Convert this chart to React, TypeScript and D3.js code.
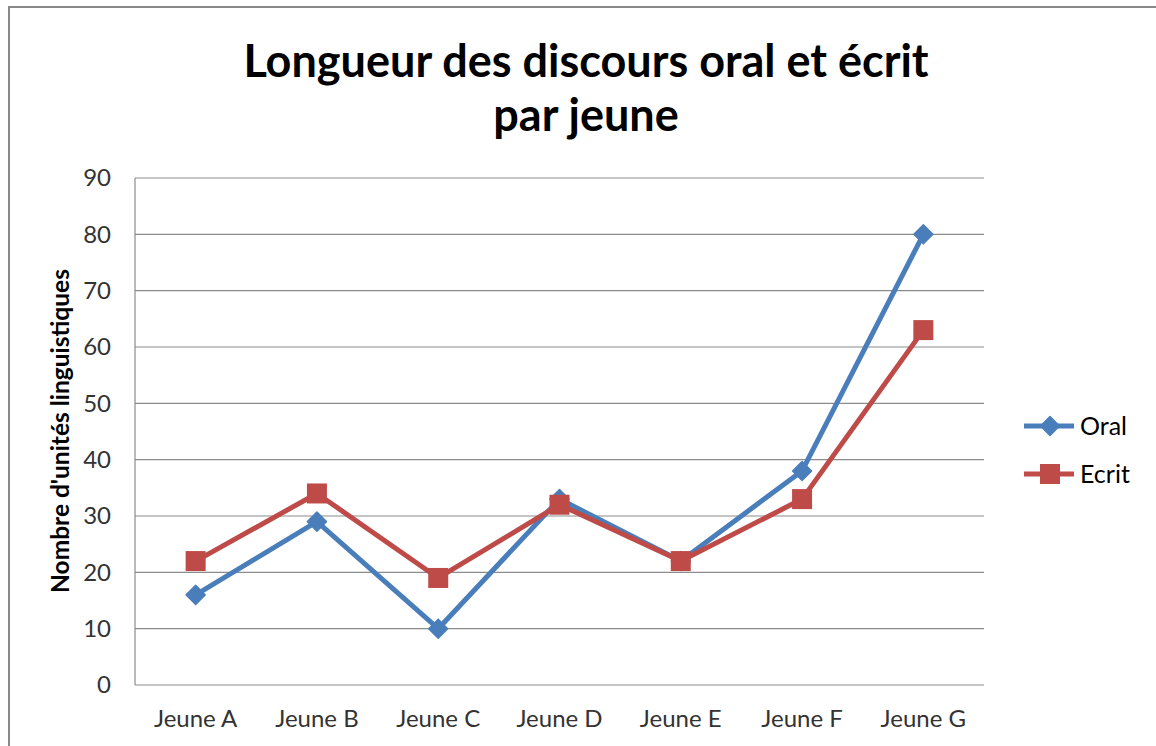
import React from "react";
import * as d3 from "d3";

const categories = ["Jeune A", "Jeune B", "Jeune C", "Jeune D", "Jeune E", "Jeune F", "Jeune G"];
const oralValues = [16, 29, 10, 33, 22, 38, 80];
const ecritValues = [22, 34, 19, 32, 22, 33, 63];
const yTicks = [0, 10, 20, 30, 40, 50, 60, 70, 80, 90];
const titleLines = ["Longueur des discours oral et écrit", "par jeune"];
const yAxisTitle = "Nombre d'unités linguistiques";

const W = 1156;
const H = 746;
const FONT = "Lato, 'Open Sans', sans-serif";
const BLUE = "#4A7EBB";
const RED = "#BE4B48";

export default function App() {
  const plot = { left: 135, right: 984, top: 178, bottom: 685 };
  const x = d3.scalePoint<string>().domain(categories).range([plot.left, plot.right]).padding(0.5);
  const y = d3.scaleLinear().domain([0, 90]).range([plot.bottom, plot.top]);
  const line = d3.line<number>().x((_, i) => x(categories[i]) as number).y((d) => y(d));

  const series = [
    { name: "Oral", values: oralValues, color: BLUE, marker: "diamond" },
    { name: "Ecrit", values: ecritValues, color: RED, marker: "square" },
  ];

  const marker = (kind: string, cx: number, cy: number, color: string, key: string) =>
    kind === "diamond" ? (
      <path key={key} d={`M${cx},${cy - 9.5} L${cx + 9.5},${cy} L${cx},${cy + 9.5} L${cx - 9.5},${cy} Z`} fill={color} stroke={color} strokeWidth={1.5} strokeLinejoin="round" />
    ) : (
      <rect key={key} x={cx - 10} y={cy - 10} width={20} height={20} fill={color} />
    );

  return (
    <svg width={W} height={H} style={{ position: "absolute", left: 0, top: 0, background: "#fff" }}>
      <rect x={9} y={7} width={W + 10} height={H + 10} fill="#fff" stroke="#888" strokeWidth={2} />
      {titleLines.map((t, i) => (
        <text key={t} x={586} y={77 + i * 54} textAnchor="middle" fontFamily={FONT} fontWeight="bold" fontSize={45} fill="#000">
          {t}
        </text>
      ))}
      {yTicks.map((t) => (
        <g key={t}>
          <line x1={plot.left} x2={plot.right} y1={y(t)} y2={y(t)} stroke="#8c8c8c" strokeWidth={1.2} />
          <text x={111} y={y(t)} dy="0.35em" textAnchor="end" fontFamily={FONT} fontSize={24} fill="#333">
            {t}
          </text>
        </g>
      ))}
      <line x1={plot.left} x2={plot.left} y1={plot.top} y2={plot.bottom} stroke="#8c8c8c" strokeWidth={1.2} />
      {categories.map((c) => (
        <text key={c} x={x(c)} y={727} textAnchor="middle" fontFamily={FONT} fontSize={24} fill="#333">
          {c}
        </text>
      ))}
      <text transform={`translate(69,431) rotate(-90)`} textAnchor="middle" fontFamily={FONT} fontWeight="bold" fontSize={24.5} fill="#000">
        {yAxisTitle}
      </text>
      {series.map((s) => (
        <g key={s.name}>
          <path d={line(s.values) || ""} fill="none" stroke={s.color} strokeWidth={5} strokeLinejoin="round" />
          {s.values.map((v, i) => marker(s.marker, x(categories[i]) as number, y(v), s.color, s.name + i))}
        </g>
      ))}
      {series.map((s, i) => {
        const ly = 426 + i * 48;
        return (
          <g key={"leg" + s.name}>
            <line x1={1024} x2={1074} y1={ly} y2={ly} stroke={s.color} strokeWidth={5} />
            {marker(s.marker, 1050, ly, s.color, "lm" + s.name)}
            <text x={1080} y={ly} dy="0.35em" fontFamily={FONT} fontSize={25} fill="#000">
              {s.name}
            </text>
          </g>
        );
      })}
    </svg>
  );
}
